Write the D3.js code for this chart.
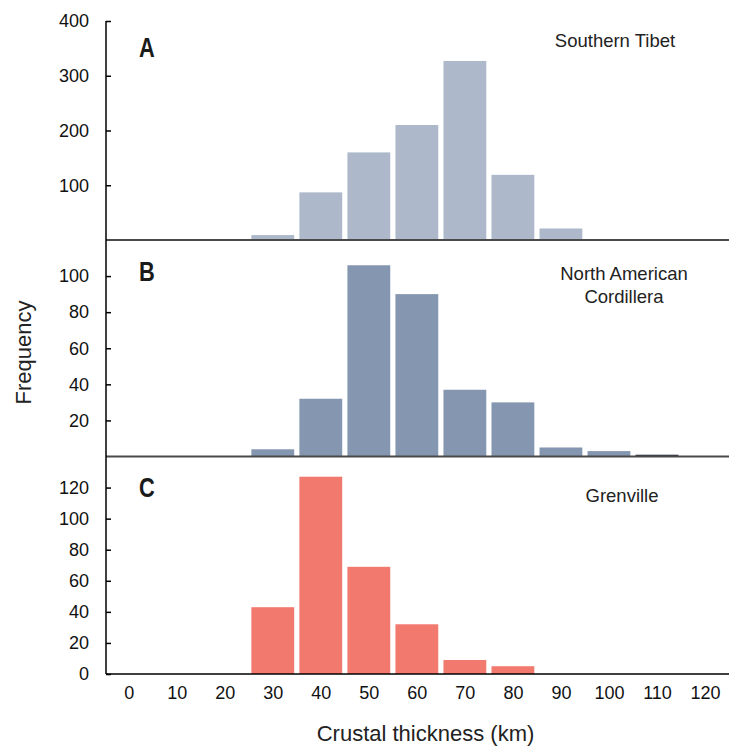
<!DOCTYPE html>
<html lang="en">
  <head>
    <meta charset="UTF-8" />
    <title>Crustal thickness</title>
    <script src="https://cdn.jsdelivr.net/npm/d3@7"></script>
    <style>
      html,
      body {
        margin: 0;
        padding: 0;
        background: #fff;
      }
      svg {
        display: block;
        font-family: 'Liberation Sans', Arial, sans-serif;
      }
    </style>
  </head>
  <body>
    <svg width="729" height="748"></svg>
    <script>
      // bin centres (km)
      const bins = [0, 10, 20, 30, 40, 50, 60, 70, 80, 90, 100, 110, 120];
      const xTicks = [0, 10, 20, 30, 40, 50, 60, 70, 80, 90, 100, 110, 120];

      const tibet = [0, 0, 0, 9, 87, 160, 210, 327, 119, 21, 1, 0, 0];
      const cordillera = [0, 0, 0, 4, 32, 106, 90, 37, 30, 5, 3, 1, 0];
      const grenville = [0, 0, 0, 43, 127, 69, 32, 9, 5, 0, 0, 0, 0];

      const tibetTicks = [100, 200, 300, 400];
      const cordilleraTicks = [20, 40, 60, 80, 100];
      const grenvilleTicks = [0, 20, 40, 60, 80, 100, 120];

      const panels = [
        {
          letter: 'A',
          title: ['Southern Tibet'],
          values: tibet,
          ticks: tibetTicks,
          max: 400,
          top: 21,
          bottom: 240,
          color: '#adb9cb',
          letterY: 57,
          titleX: 615,
          titleY: 47
        },
        {
          letter: 'B',
          title: ['North American', 'Cordillera'],
          values: cordillera,
          ticks: cordilleraTicks,
          max: 120,
          top: 240,
          bottom: 456.5,
          color: '#8597b0',
          letterY: 281,
          titleX: 624,
          titleY: 280
        },
        {
          letter: 'C',
          title: ['Grenville'],
          values: grenville,
          ticks: grenvilleTicks,
          max: 140,
          top: 456.5,
          bottom: 674,
          color: '#f2796e',
          letterY: 497,
          titleX: 622,
          titleY: 502
        }
      ];

      const svg = d3.select('svg');
      const axisLeft = 106;
      const axisRight = 729;

      const x = d3
        .scaleLinear()
        .domain([0, 120])
        .range([128.7, 705]);

      panels.forEach(function(p, i) {
        const y = d3
          .scaleLinear()
          .domain([0, p.max])
          .range([p.bottom, p.top]);

        const g = svg.append('g');

        g.selectAll('rect')
          .data(bins.map((b, j) => ({ bin: b, v: p.values[j] })).filter(d => d.v > 0))
          .enter()
          .append('rect')
          .attr('x', d => x(d.bin - 5) + 2.6)
          .attr('width', d => x(d.bin + 5) - x(d.bin - 5) - 5.2)
          .attr('y', d => y(d.v))
          .attr('height', d => y(0) - y(d.v))
          .attr('fill', d => (y(0) - y(d.v) < 2.5 ? '#333a45' : p.color));

        // baseline of the panel
        g.append('line')
          .attr('x1', axisLeft)
          .attr('x2', axisRight)
          .attr('y1', y(0))
          .attr('y2', y(0))
          .attr('stroke', i === 2 ? '#000' : '#4a4a4a')
          .attr('stroke-width', i === 2 ? 1.5 : 2);

        const yAxis = d3
          .axisLeft(y)
          .tickValues(p.ticks)
          .tickSizeInner(-5)
          .tickSizeOuter(0)
          .tickPadding(17);

        const ag = g
          .append('g')
          .attr('transform', 'translate(' + axisLeft + ',0)')
          .call(yAxis);
        ag.select('.domain').remove();
        ag.selectAll('.tick line').attr('stroke', '#000').attr('stroke-width', 1.5);
        ag.selectAll('.tick text')
          .attr('font-size', 18)
          .attr('font-family', "'Liberation Sans', Arial, sans-serif")
          .attr('fill', '#111');

        // condensed bold panel letter
        g.append('text')
          .attr('transform', 'translate(147,' + p.letterY + ') scale(0.78,1)')
          .attr('text-anchor', 'middle')
          .attr('font-family', "'Liberation Sans', Arial, sans-serif")
          .attr('font-weight', 'bold')
          .attr('font-size', 28)
          .attr('fill', '#1a1a1a')
          .text(p.letter);

        const t = g
          .append('text')
          .attr('x', p.titleX)
          .attr('y', p.titleY)
          .attr('text-anchor', 'middle')
          .attr('font-size', 18.5)
          .attr('fill', '#222');
        p.title.forEach(function(line, k) {
          t.append('tspan')
            .attr('x', p.titleX)
            .attr('dy', k === 0 ? 0 : 23.3)
            .text(line);
        });
      });

      // y axis line
      svg
        .append('line')
        .attr('x1', axisLeft)
        .attr('x2', axisLeft)
        .attr('y1', 21)
        .attr('y2', 674)
        .attr('stroke', '#000')
        .attr('stroke-width', 1.5);

      const xAxis = d3
        .axisBottom(x)
        .tickValues(xTicks)
        .tickSize(0)
        .tickPadding(12);

      const xg = svg
        .append('g')
        .attr('transform', 'translate(0,674)')
        .call(xAxis);
      xg.select('.domain').remove();
      xg.selectAll('.tick text')
        .attr('font-size', 18)
        .attr('font-family', "'Liberation Sans', Arial, sans-serif")
        .attr('fill', '#111');

      svg
        .append('text')
        .attr('x', 425.5)
        .attr('y', 741)
        .attr('text-anchor', 'middle')
        .attr('font-size', 22)
        .attr('fill', '#222')
        .text('Crustal thickness (km)');

      svg
        .append('text')
        .attr('transform', 'translate(31,352.5) rotate(-90)')
        .attr('text-anchor', 'middle')
        .attr('font-size', 22)
        .attr('fill', '#222')
        .text('Frequency');
    </script>
  </body>
</html>
